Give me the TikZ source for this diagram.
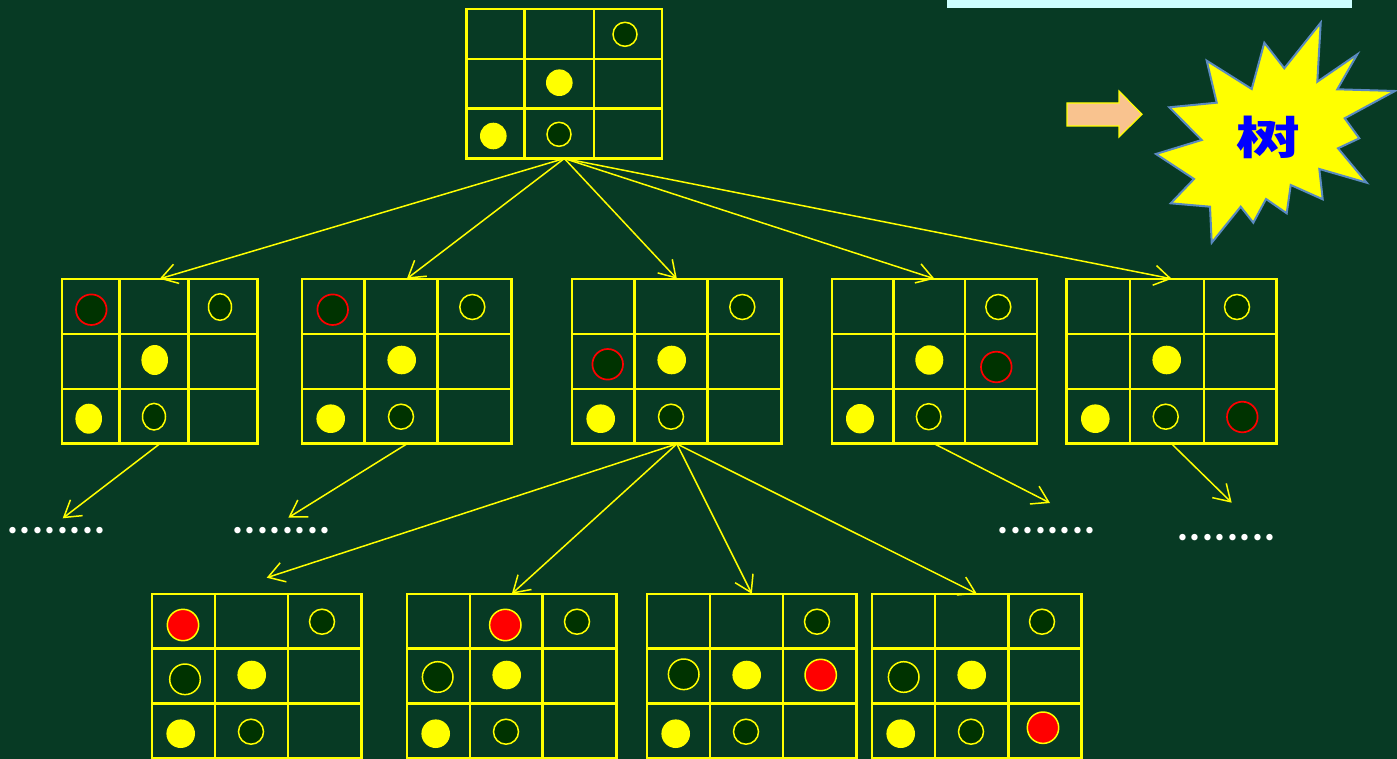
\documentclass[tikz,border=0pt]{standalone}
\usepackage{fontspec}
\setmainfont{Liberation Sans}
\newfontfamily\cjk{Noto Sans CJK SC}
\newfontfamily\dotfont{Poppins}
\usetikzlibrary{arrows.meta,fit}
\definecolor{bgc}{HTML}{073A24}
\definecolor{gy}{HTML}{FFFF00}
\definecolor{dk}{HTML}{003300}
\definecolor{cy}{HTML}{CCFFFF}
\definecolor{peach}{HTML}{F9C38F}
\definecolor{burstedge}{HTML}{5A8AC0}
\definecolor{shublue}{HTML}{0000FF}
\tikzset{
  gridline/.style={draw=gy, line width=2.5pt},
  conn/.style={draw=gy, line width=1.5pt, -{Straight Barb[length=16pt,width=20pt]}},
  ypc/.style={fill=gy},
  opc/.style={fill=dk, draw=gy, line width=1.5pt},
  rring/.style={fill=dk, draw=red, line width=1.7pt},
  rpc/.style={fill=red, draw=gy, line width=1.5pt},
  dotstxt/.style={font=\dotfont\fontsize{52}{52}\selectfont, text=white, inner sep=0pt, anchor=base west},
  burst/.style={fill=gy, draw=burstedge, line width=2pt, line join=miter},
  blockarrow/.style={fill=peach, draw=gy, line width=1.2pt},
}
\newcommand{\dd}{\makebox[12.43pt][c]{.}}
\newcommand{\mkboard}[7]{%
  \node[fit={(#2,#6) (#5,#7)}, inner sep=0pt] (#1) {};
  \path[gridline] (#2,#6) rectangle (#5,#7)
     (#3,#6) -- (#3,#7) (#4,#6) -- (#4,#7)
     (#2,{#6+(#7-#6)/3}) -- (#5,{#6+(#7-#6)/3})
     (#2,{#6+2*(#7-#6)/3}) -- (#5,{#6+2*(#7-#6)/3});
}
\begin{document}
\begin{tikzpicture}[x=1pt,y=-1pt]
\useasboundingbox (0,0) rectangle (1397,759);
\fill[bgc] (0,0) rectangle (1397,759);
\fill[cy] (947,0) rectangle (1352,8);

% boards
\mkboard{top}{466.7}{524.7}{594}{662}{9}{158.3}
\mkboard{b1}{62}{119.7}{188.7}{257.3}{279}{443.7}
\mkboard{b2}{302}{364.7}{437.7}{511.7}{279}{443.7}
\mkboard{b3}{572}{634.7}{707.7}{781.7}{279}{443.7}
\mkboard{b4}{832}{893.7}{965}{1037}{279}{443.7}
\mkboard{b5}{1066.7}{1130}{1204}{1276.7}{279}{443.7}
\mkboard{c1}{152}{215}{288}{361.7}{594}{758}
\mkboard{c2}{407}{470}{542.7}{616.7}{594}{758}
\mkboard{c3}{647}{710}{783}{856.7}{594}{758}
\mkboard{c4}{872}{935}{1008.7}{1081.7}{594}{758}

% pieces: top
\draw[opc] (625,34.3) circle[radius=12pt];
\fill[ypc] (559.3,82.7) circle[radius=13.3pt];
\fill[ypc] (493.3,136) circle[radius=13.3pt];
\draw[opc] (559,134.3) circle[radius=12pt];
% b1
\draw[rring] (91.3,309.7) circle[radius=15.3pt];
\draw[opc] (220,307) ellipse[x radius=11.5pt, y radius=13.3pt];
\fill[ypc] (154.7,360) ellipse[x radius=13.3pt, y radius=15pt];
\fill[ypc] (88.7,418.7) ellipse[x radius=13.3pt, y radius=15pt];
\draw[opc] (154,416.7) ellipse[x radius=11.5pt, y radius=13.3pt];
% b2
\draw[rring] (332.7,309.7) circle[radius=15.3pt];
\draw[opc] (472.3,307) circle[radius=12.5pt];
\fill[ypc] (401.7,360) circle[radius=14.3pt];
\fill[ypc] (330.7,418.7) circle[radius=14.3pt];
\draw[opc] (401,416.7) circle[radius=12.5pt];
% b3
\draw[opc] (742.3,307) circle[radius=12.5pt];
\draw[rring] (607.7,364.3) circle[radius=15.3pt];
\fill[ypc] (671.7,360) circle[radius=14.3pt];
\fill[ypc] (600.7,418.7) circle[radius=14.3pt];
\draw[opc] (671,416.7) circle[radius=12.5pt];
% b4
\draw[opc] (998.3,307) circle[radius=12.5pt];
\fill[ypc] (929.3,360) ellipse[x radius=14pt, y radius=14.7pt];
\draw[rring] (996.3,367) circle[radius=15.3pt];
\fill[ypc] (860,418.7) ellipse[x radius=14pt, y radius=14.7pt];
\draw[opc] (928.7,416.7) ellipse[x radius=12.3pt, y radius=13pt];
% b5
\draw[opc] (1237,307) circle[radius=12.5pt];
\fill[ypc] (1166.7,360) circle[radius=14.3pt];
\fill[ypc] (1095.3,418.7) circle[radius=14.3pt];
\draw[opc] (1165.7,416.7) circle[radius=12.5pt];
\draw[rring] (1242.3,417) circle[radius=15.3pt];
% c1
\draw[rpc] (183,625) circle[radius=15.7pt];
\draw[opc] (322,621.7) circle[radius=12.5pt];
\draw[opc] (185,679.3) circle[radius=15.3pt];
\fill[ypc] (251.7,675) circle[radius=14.3pt];
\fill[ypc] (180.7,733.7) circle[radius=14.3pt];
\draw[opc] (251,731.7) circle[radius=12.5pt];
% c2
\draw[rpc] (505.3,625) circle[radius=15.7pt];
\draw[opc] (577,621.7) circle[radius=12.5pt];
\draw[opc] (437.7,677) circle[radius=15.3pt];
\fill[ypc] (506.7,675) circle[radius=14.3pt];
\fill[ypc] (435.7,733.7) circle[radius=14.3pt];
\draw[opc] (506,731.7) circle[radius=12.5pt];
% c3
\draw[opc] (817,621.7) circle[radius=12.5pt];
\draw[opc] (683.7,674.3) circle[radius=15.3pt];
\fill[ypc] (746.7,675) circle[radius=14.3pt];
\draw[rpc] (820.7,675) circle[radius=15.7pt];
\fill[ypc] (675.7,733.7) circle[radius=14.3pt];
\draw[opc] (746,731.7) circle[radius=12.5pt];
% c4
\draw[opc] (1042,621.7) circle[radius=12.5pt];
\draw[opc] (903.7,677) circle[radius=15.3pt];
\fill[ypc] (971.7,675) circle[radius=14.3pt];
\draw[rpc] (1043,727.7) circle[radius=15.7pt];
\fill[ypc] (900.7,733.7) circle[radius=14.3pt];
\draw[opc] (971,731.7) circle[radius=12.5pt];

% dots
\node[dotstxt] (d1) at (6.5,533.4) {\dd\dd\dd\dd\dd\dd\dd\dd};
\node[dotstxt] (d2) at (231.5,533.4) {\dd\dd\dd\dd\dd\dd\dd\dd};
\node[dotstxt] (d3) at (996.8,533.7) {\dd\dd\dd\dd\dd\dd\dd\dd};
\node[dotstxt] (d4) at (1176.5,540.4) {\dd\dd\dd\dd\dd\dd\dd\dd};

% free ends
\coordinate (e1) at (62.7,518.3);
\coordinate (e2) at (288.3,517.7);
\coordinate (e3) at (266.7,577.7);
\coordinate (e4) at (1050,503);
\coordinate (e5) at (1231.7,502.7);

% connectors
\draw[conn] (top.south) -- (b1.north);
\draw[conn] (top.south) -- (b2.north);
\draw[conn] (top.south) -- (b3.north);
\draw[conn] (top.south) -- (b4.north);
\draw[conn] (top.south) -- (b5.north);
\draw[conn] (b1.south) -- (e1);
\draw[conn] (b2.south) -- (e2);
\draw[conn] (b3.south) -- (e3);
\draw[conn] (b3.south) -- (c2.north);
\draw[conn] (b3.south) -- (c3.north);
\draw[conn] (b3.south) -- (c4.north);
\draw[conn] (b4.south) -- (e4);
\draw[conn] (b5.south) -- (e5);

% block arrow
\draw[blockarrow] (1067,103) -- (1119,103) -- (1119,91) -- (1142,114.3) -- (1119,137) -- (1119,126) -- (1067,126) -- cycle;

% starburst
\draw[burst] (1320.7,22.7) -- (1317.3,81.7) -- (1357.3,54.3) -- (1337.3,89.3) -- (1395,91)
 -- (1344.7,118.3) -- (1359.3,138.3) -- (1338,148.3) -- (1366.7,182.7) -- (1319.3,169)
 -- (1322.7,199.3) -- (1290.7,185) -- (1286.7,213.3) -- (1266,199) -- (1253.3,222.7)
 -- (1240.7,206.7) -- (1211.7,242.7) -- (1210,206.7) -- (1170.7,203.3) -- (1194,179)
 -- (1156,154) -- (1201.7,140) -- (1169.3,107.3) -- (1216.7,102.7) -- (1206.7,60.7)
 -- (1251.7,89) -- (1264.3,42.7) -- (1284.3,68.3) -- cycle;
\node[text=shublue, font=\cjk\bfseries\fontsize{45}{45}\selectfont, xscale=1.42, inner sep=0pt] (shu) at (1268,137.5) {树};
\end{tikzpicture}
\end{document}
